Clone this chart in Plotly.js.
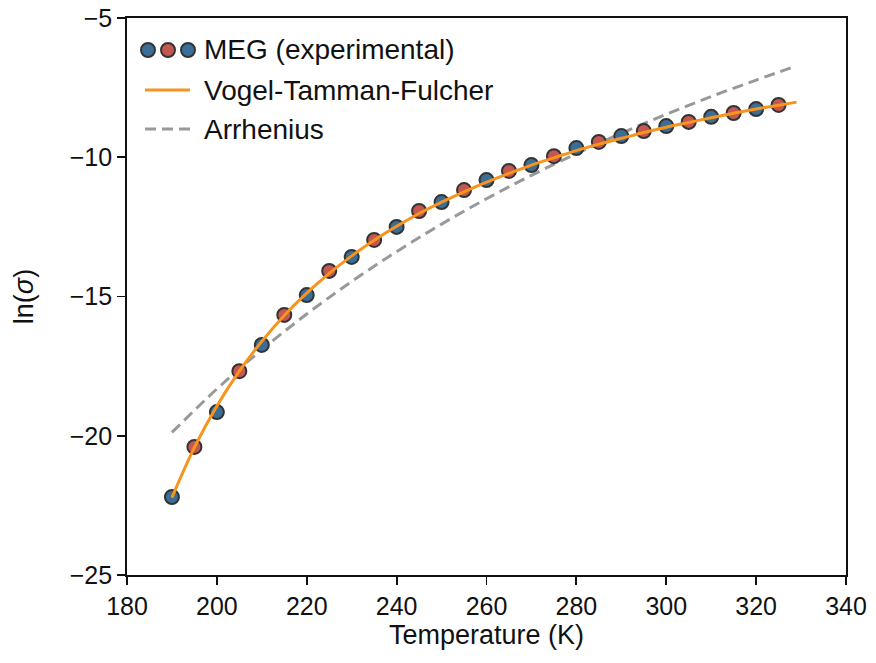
<!DOCTYPE html>
<html>
<head>
<meta charset="utf-8">
<script src="https://cdn.plot.ly/plotly-3.0.1.min.js"></script>
<style>
html,body{margin:0;padding:0;background:#fff;}
#chart{width:876px;height:663px;}
</style>
</head>
<body>
<div id="chart"></div>
<script>
// Experimental points
const tempExp = [190,195,200,205,210,215,220,225,230,235,240,245,250,255,260,265,270,275,280,285,290,295,300,305,310,315,320,325];
const lnSigmaExp = [-22.2,-20.4,-19.15,-17.68,-16.74,-15.66,-14.95,-14.08,-13.58,-12.97,-12.5,-11.93,-11.61,-11.18,-10.82,-10.49,-10.28,-9.96,-9.67,-9.45,-9.24,-9.06,-8.88,-8.73,-8.55,-8.41,-8.27,-8.12];

// Vogel-Tamman-Fulcher curve
const tempVTF = [190,195,200,205,210,215,220,225,230,235,240,245,250,255,260,265,270,275,280,285,290,295,300,305,310,315,320,325,329];
const lnSigmaVTF = [-22.22,-20.42,-18.93,-17.68,-16.61,-15.68,-14.88,-14.17,-13.54,-12.98,-12.48,-12.02,-11.61,-11.24,-10.89,-10.58,-10.28,-10.02,-9.76,-9.53,-9.32,-9.11,-8.92,-8.75,-8.58,-8.42,-8.27,-8.13,-8.02];

// Arrhenius curve
const tempArr = [190,200,210,220,230,240,250,260,270,280,290,300,310,320,329];
const lnSigmaArr = [-19.88,-18.32,-16.91,-15.63,-14.46,-13.39,-12.40,-11.49,-10.65,-9.87,-9.14,-8.46,-7.82,-7.23,-6.72];

const legendLabels = ["MEG (experimental)", "Vogel-Tamman-Fulcher", "Arrhenius"];
const xTicks = [180,200,220,240,260,280,300,320,340];
const yTicks = [-25,-20,-15,-10,-5];

const BLUE = "#3b6e96", RED = "#c45850", ORANGE = "#f7941d", GRAY = "#999999";
const FONT = "Liberation Sans, Arial, Helvetica, sans-serif";

const traces = [
  {x: tempArr, y: lnSigmaArr, mode: "lines", line: {color: GRAY, width: 3, dash: "11px,6px", shape: "spline"}, showlegend: false, hoverinfo: "skip"},
  {x: tempExp, y: lnSigmaExp, mode: "markers",
   marker: {size: 14, color: tempExp.map((_, i) => i % 2 ? RED : BLUE), line: {color: "#333333", width: 2}},
   showlegend: false},
  {x: tempVTF, y: lnSigmaVTF, mode: "lines", line: {color: ORANGE, width: 3, shape: "spline"}, showlegend: false, hoverinfo: "skip"}
];

// Manual legend (pixel-anchored glyphs in paper coordinates)
const L = 127, R = 846, T = 18, B = 575;
const px = v => (v - L) / (R - L);
const py = v => (B - v) / (B - T);
const shapes = [];
[[148, BLUE], [168, RED], [188, BLUE]].forEach(([cx, c]) => {
  shapes.push({type: "circle", xref: "paper", yref: "paper", xsizemode: "pixel", ysizemode: "pixel",
    xanchor: px(cx), yanchor: py(50), x0: -7, x1: 7, y0: -7, y1: 7,
    fillcolor: c, line: {color: "#333333", width: 2}});
});
shapes.push({type: "line", xref: "paper", yref: "paper", x0: px(145), x1: px(190), y0: py(90), y1: py(90), line: {color: ORANGE, width: 3}});
shapes.push({type: "line", xref: "paper", yref: "paper", x0: px(145), x1: px(190), y0: py(129), y1: py(129), line: {color: GRAY, width: 3, dash: "11px,6px"}});

const annotations = legendLabels.map((t, i) => ({
  text: t, xref: "paper", yref: "paper", x: px(202), y: py([50, 90, 129][i]),
  xanchor: "left", yanchor: "middle", showarrow: false,
  font: {family: FONT, size: 28, color: "#111111"}
}));

const layout = {
  width: 876, height: 663,
  margin: {l: L, r: 876 - R, t: T, b: 663 - B},
  paper_bgcolor: "#ffffff", plot_bgcolor: "#ffffff",
  font: {family: FONT, size: 26, color: "#111111"},
  showlegend: false,
  xaxis: {
    range: [180, 340], tickvals: xTicks, ticktext: xTicks.map(String),
    showgrid: false, zeroline: false, showline: true, mirror: true,
    linecolor: "#111111", linewidth: 1.8, ticks: "outside", ticklen: 8, tickwidth: 1.8, tickcolor: "#111111",
    tickfont: {family: FONT, size: 25},
    title: {text: "Temperature (K)", font: {family: FONT, size: 27}, standoff: 2}
  },
  yaxis: {
    range: [-25, -5], tickvals: yTicks, ticktext: yTicks.map(v => "\u2212" + Math.abs(v)),
    showgrid: false, zeroline: false, showline: true, mirror: true,
    linecolor: "#111111", linewidth: 1.8, ticks: "outside", ticklen: 8, tickwidth: 1.8, tickcolor: "#111111",
    tickfont: {family: FONT, size: 25},
    title: {text: "ln(<i>σ</i>)", font: {family: FONT, size: 27}, standoff: 28}
  },
  shapes: shapes,
  annotations: annotations
};

Plotly.newPlot("chart", traces, layout, {displayModeBar: false, staticPlot: true});
</script>
</body>
</html>
